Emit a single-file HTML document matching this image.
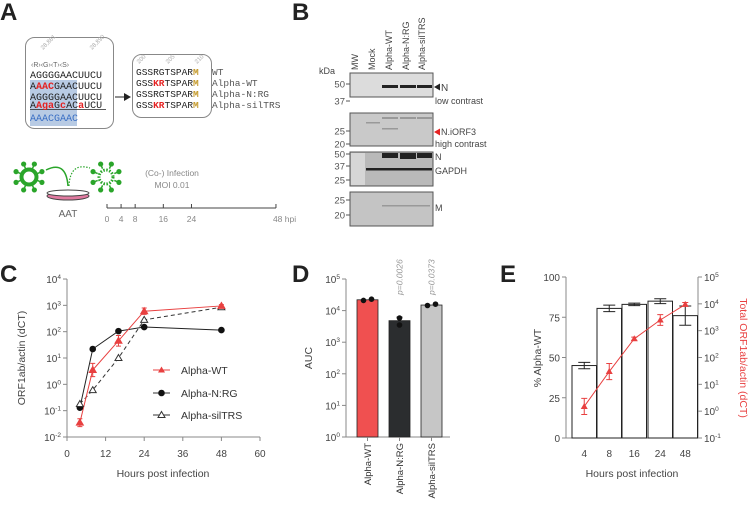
<!DOCTYPE html>
<html><head><meta charset="utf-8"><style>
html,body{margin:0;padding:0;background:#fff;}
svg{display:block;font-family:"Liberation Sans",sans-serif;}
.mono{font-family:"Liberation Mono",monospace;}
</style></head><body>
<svg id="fig" width="750" height="506" viewBox="0 0 750 506">
<!-- Panel letters -->
<g font-weight="bold" font-size="24" fill="#222">
<text x="0" y="20">A</text>
<text x="292" y="20">B</text>
<text x="0" y="282">C</text>
<text x="292" y="282">D</text>
<text x="500" y="282">E</text>
</g>

<!-- Panel A -->
<g>
<rect x="25.5" y="37.5" width="88" height="91" rx="9" fill="#fff" stroke="#888"/>
<rect x="30" y="80" width="47" height="46" fill="#b8cbe4"/>
<line x1="30" y1="109.5" x2="106" y2="109.5" stroke="#222" stroke-width="0.8"/>
<text x="43" y="50" font-size="6" fill="#aaa" transform="rotate(-45 43 50)">28,881</text>
<text x="92" y="50" font-size="6" fill="#aaa" transform="rotate(-45 92 50)">28,890</text>
<text x="31" y="67" font-size="7" fill="#666">‹R›‹G›‹T›‹S›</text>
<g class="mono" font-size="10" fill="#222">
<text x="30" y="78">AGGGGAACUUCU</text>
<text x="30" y="89">A<tspan fill="#e52222" font-weight="bold">AAC</tspan>GAACUUCU</text>
<text x="30" y="100">AGGGGAACUUCU</text>
<text x="30" y="108">A<tspan fill="#e52222" font-weight="bold">Aga</tspan>G<tspan fill="#e52222" font-weight="bold">c</tspan>AC<tspan fill="#e52222" font-weight="bold">a</tspan>UCU</text>
<text x="30" y="121" fill="#3a6fc4">AAACGAAC</text>
</g>
<line x1="115" y1="97" x2="126" y2="97" stroke="#222"/>
<polygon points="124,93 131,97 124,101" fill="#222"/>
<rect x="132.5" y="54.5" width="79" height="63" rx="9" fill="#fff" stroke="#888"/>
<text x="139" y="64" font-size="6" fill="#aaa" transform="rotate(-45 139 64)">200</text>
<text x="168" y="64" font-size="6" fill="#aaa" transform="rotate(-45 168 64)">205</text>
<text x="197" y="64" font-size="6" fill="#aaa" transform="rotate(-45 197 64)">210</text>
<g class="mono" font-size="9.5" fill="#222">
<text x="136" y="75">GSSRGTSPAR<tspan fill="#c49a2c" font-weight="bold">M</tspan></text>
<text x="136" y="86">GSS<tspan fill="#e52222" font-weight="bold">KR</tspan>TSPAR<tspan fill="#c49a2c" font-weight="bold">M</tspan></text>
<text x="136" y="97">GSSRGTSPAR<tspan fill="#c49a2c" font-weight="bold">M</tspan></text>
<text x="136" y="108">GSS<tspan fill="#e52222" font-weight="bold">KR</tspan>TSPAR<tspan fill="#c49a2c" font-weight="bold">M</tspan></text>
</g>
<g class="mono" font-size="9.5" fill="#555">
<text x="212" y="75">WT</text><text x="212" y="86">Alpha-WT</text>
<text x="212" y="97">Alpha-N:RG</text><text x="212" y="108">Alpha-silTRS</text>
</g>
<!-- viruses -->
<g stroke="#2aa52a" fill="#2aa52a">
<circle cx="29" cy="177" r="7.5" fill="none" stroke-width="4"/>
<g id="spikes1"></g>
</g>
<g stroke="#2aa52a" fill="#2aa52a">
<circle cx="106" cy="177" r="7" fill="none" stroke-width="3" stroke-dasharray="1.5 1.5"/>
<g id="spikes2"></g>
</g>
<path d="M46,170 Q66,160 68,186" stroke="#2aa52a" stroke-width="1.5" fill="none"/>
<path d="M69,186 Q70,162 90,168" stroke="#2aa52a" stroke-width="1.2" fill="none" stroke-dasharray="1.5 1.5"/>
<ellipse cx="68" cy="196" rx="21" ry="4" fill="#e07aa0" stroke="#444" stroke-width="1"/>
<ellipse cx="68" cy="193" rx="21" ry="3" fill="#fff" stroke="#444" stroke-width="1"/>
<text x="68" y="217" font-size="10" fill="#666" text-anchor="middle">AAT</text>
<text x="172" y="176" font-size="8.5" fill="#888" text-anchor="middle">(Co-) Infection</text>
<text x="172" y="188" font-size="8.5" fill="#888" text-anchor="middle">MOI 0.01</text>
<g id="timeline"></g>
</g>

<!-- Panel B -->
<g font-size="9" fill="#444">
<text x="319" y="74" font-size="9">kDa</text>
<g id="lanes"></g>
<defs>
<linearGradient id="g1" x1="0" x2="1"><stop offset="0" stop-color="#d4d4d4"/><stop offset="1" stop-color="#c8c8c8"/></linearGradient>
</defs>
<rect x="350" y="73" width="83" height="24" fill="#dcdcdc" stroke="#555"/>
<rect x="350" y="113" width="83" height="33" fill="#c9c9c9" stroke="#555"/>
<rect x="350" y="152" width="83" height="34" fill="#b9b9b9" stroke="#555"/>
<rect x="350" y="192" width="83" height="34" fill="#c4c4c4" stroke="#555"/>
<rect x="351" y="153" width="14" height="32" fill="#d6d6d6"/>
<g fill="#222">
<rect x="382" y="85" width="16" height="3"/><rect x="400" y="85" width="16" height="3"/><rect x="417" y="85" width="15" height="3"/>
<rect x="382" y="153" width="16" height="5"/><rect x="400" y="153" width="16" height="6"/><rect x="417" y="153" width="15" height="5"/>
<rect x="366" y="168" width="66" height="2.5"/>
</g>
<g fill="#999"><rect x="382" y="117" width="16" height="2"/><rect x="400" y="117" width="16" height="2"/><rect x="417" y="117" width="15" height="2"/>
<rect x="382" y="128" width="16" height="1.5"/><rect x="366" y="122" width="14" height="1.5"/><rect x="382" y="205" width="48" height="1.5"/></g>
<g id="kda"></g>
<polygon points="434,87 440,83.5 440,90.5" fill="#222"/>
<text x="441" y="91" font-size="10">N</text>
<text x="435" y="104">low contrast</text>
<polygon points="434,132 440,128.5 440,135.5" fill="#e52222"/>
<text x="441" y="135">N.iORF3</text>
<text x="435" y="147">high contrast</text>
<text x="435" y="160">N</text>
<text x="435" y="174">GAPDH</text>
<text x="435" y="211">M</text>
</g>

<g id="panelC"></g>
<g id="panelD"></g>
<g id="panelE"></g>
</svg>
<script>
const NS="http://www.w3.org/2000/svg";
function mk(p,tag,at,txt){const e=document.createElementNS(NS,tag);for(const k in at)e.setAttribute(k,at[k]);if(txt!==undefined)e.textContent=txt;p.appendChild(e);return e;}

// ---------- Panel C data ----------
const cHours=[4,8,16,24,48];
const cWT=[0.035,3.5,45,600,950];
const cWTerr=[0.15,0.25,0.2,0.12,0.05];
const cNRG=[0.13,22,105,150,115];
const cSil=[0.18,0.6,10,280,850];
const cXTicks=[0,12,24,36,48,60];
const cYExp=[-2,-1,0,1,2,3,4];
const seriesNames=["Alpha-WT","Alpha-N:RG","Alpha-silTRS"];

// ---------- Panel D data ----------
const dCats=["Alpha-WT","Alpha-N:RG","Alpha-silTRS"];
const dVals=[22000,4800,15000];
const dPts=[[21000,23000],[5800,3500],[14500,16000]];
const dP=["","p=0.0026","p=0.0373"];
const dColors=["#f05050","#2b2d2f","#c6c6c6"];
const dYExp=[0,1,2,3,4,5];

// ---------- Panel E data ----------
const eCats=["4","8","16","24","48"];
const ePct=[45,80.5,83,85,76];
const ePctErr=[2,2,0.8,1.5,6];
const eTotal=[1.5,30,500,2500,9500];
const eTotalErr=[0.3,0.3,0.06,0.2,0.07];
const eLeftTicks=[0,25,50,75,100];
const eRightExp=[-1,0,1,2,3,4,5];

const sup=(g,x,y,exp,anchor,fill,fs)=>{const t=mk(g,"text",{x:x,y:y,"font-size":fs||10,fill:fill||"#444","text-anchor":anchor||"end"});t.appendChild(document.createTextNode("10"));const s=document.createElementNS(NS,"tspan");s.setAttribute("dy","-4");s.setAttribute("font-size","6.5");s.textContent=exp;t.appendChild(s);return t;};

// virus spikes
[[29,177,"spikes1",false],[106,177,"spikes2",true]].forEach(([cx,cy,id,d])=>{const g=document.getElementById(id);for(let i=0;i<8;i++){const a=i*Math.PI/4+Math.PI/8;mk(g,"line",{x1:cx+9*Math.cos(a),y1:cy+9*Math.sin(a),x2:cx+13*Math.cos(a),y2:cy+13*Math.sin(a),"stroke-width":1.5});mk(g,"circle",{cx:cx+14*Math.cos(a),cy:cy+14*Math.sin(a),r:2.6,stroke:"none"});}});

// timeline
(function(){const g=document.getElementById("timeline");const tx=h=>107+h*3.52;
mk(g,"line",{x1:tx(0),y1:208,x2:tx(48),y2:208,stroke:"#444"});
[0,4,8,16,24,48].forEach(h=>{mk(g,"line",{x1:tx(h),y1:204,x2:tx(h),y2:208,stroke:"#444"});mk(g,"text",{x:tx(h),y:222,"font-size":8.5,fill:"#888","text-anchor":h===48?"start":"middle",dx:h===48?-3:0},h===48?"48 hpi":h);});})();

// lanes & kDa
(function(){const g=document.getElementById("lanes");const names=["MW","Mock","Alpha-WT","Alpha-N:RG","Alpha-silTRS"];const xs=[358,375,392,409,425];
names.forEach((n,i)=>{const t=mk(g,"text",{x:xs[i],y:70,"font-size":9,fill:"#444",transform:`rotate(-90 ${xs[i]} 70)`},n);});
const k=document.getElementById("kda");const marks=[[50,84],[37,101],[25,131],[20,144],[50,154],[37,166],[25,180],[25,200],[20,215]];
marks.forEach(([v,y])=>{mk(k,"text",{x:345,y:y+3.5,"font-size":9.5,fill:"#555","text-anchor":"end"},v);mk(k,"line",{x1:346,y1:y,x2:350,y2:y,stroke:"#555"});});})();

// ---------- Panel C ----------
(function(){const g=document.getElementById("panelC");
const X=h=>67+h*(193/60), Y=v=>437-(Math.log10(v)+2)*26.33;
mk(g,"line",{x1:67,y1:279,x2:67,y2:437,stroke:"#888"});
mk(g,"line",{x1:67,y1:437,x2:260,y2:437,stroke:"#888"});
cYExp.forEach(e=>{const y=Y(Math.pow(10,e));mk(g,"line",{x1:63,y1:y,x2:67,y2:y,stroke:"#888"});sup(g,61,y+4,e);});
cXTicks.forEach(h=>{mk(g,"line",{x1:X(h),y1:437,x2:X(h),y2:441,stroke:"#888"});mk(g,"text",{x:X(h),y:457,"font-size":10,fill:"#444","text-anchor":"middle"},h);});
mk(g,"text",{x:163,y:477,"font-size":10.5,fill:"#444","text-anchor":"middle"},"Hours post infection");
mk(g,"text",{x:25,y:358,"font-size":10.5,fill:"#444","text-anchor":"middle",transform:"rotate(-90 25 358)"},"ORF1ab/actin (dCT)");
const path=(vals)=>vals.map((v,i)=>(i?"L":"M")+X(cHours[i])+","+Y(v)).join("");
const l1=mk(g,"path",{d:path(cSil),fill:"none",stroke:"#333","stroke-dasharray":"4 3"});
const l2=mk(g,"path",{d:path(cNRG),fill:"none",stroke:"#222"});
const l3=mk(g,"path",{d:path(cWT),fill:"none",stroke:"#e84040"});
const tri=(x,y,fill,stroke)=>mk(g,"polygon",{points:`${x},${y-3.5} ${x+3.5},${y+2.5} ${x-3.5},${y+2.5}`,fill:fill,stroke:stroke});
cWT.forEach((v,i)=>{const x=X(cHours[i]);const e=cWTerr[i];mk(g,"path",{d:`M${x},${Y(v*Math.pow(10,e))}V${Y(v/Math.pow(10,e))}M${x-2.5},${Y(v*Math.pow(10,e))}h5M${x-2.5},${Y(v/Math.pow(10,e))}h5`,stroke:"#e84040"});});
cNRG.forEach((v,i)=>{const c=mk(g,"circle",{cx:X(cHours[i]),cy:Y(v),r:3.3,fill:"#111"});});
cSil.forEach((v,i)=>{const p=tri(X(cHours[i]),Y(v),"#fff","#333");});
cWT.forEach((v,i)=>{const p=tri(X(cHours[i]),Y(v),"#e84040","#e84040");});
// legend
const ly=[370,393,415];
ly.forEach((y,i)=>{const lg=mk(g,"g",{});
mk(lg,"line",{x1:153,y1:y,x2:170,y2:y,stroke:i===0?"#e84040":"#333"});
if(i===0)mk(lg,"polygon",{points:`161.5,${y-3.5} 165,${y+2.5} 158,${y+2.5}`,fill:"#e84040"});
else if(i===1)mk(lg,"circle",{cx:161.5,cy:y,r:3.3,fill:"#111"});
else mk(lg,"polygon",{points:`161.5,${y-3.5} 165,${y+2.5} 158,${y+2.5}`,fill:"#fff",stroke:"#333"});
mk(lg,"text",{x:181,y:y+4,"font-size":10.5,fill:"#333"},seriesNames[i]);});
})();

// ---------- Panel D ----------
(function(){const g=document.getElementById("panelD");
const Y=v=>437-Math.log10(v)*31.6; const bx=[357,389,421], bw=21;
mk(g,"line",{x1:346,y1:279,x2:346,y2:437,stroke:"#888"});
mk(g,"line",{x1:346,y1:437,x2:450,y2:437,stroke:"#888"});
dYExp.forEach(e=>{const y=Y(Math.pow(10,e));mk(g,"line",{x1:342,y1:y,x2:346,y2:y,stroke:"#888"});sup(g,340,y+4,e);});
mk(g,"text",{x:312,y:358,"font-size":10.5,fill:"#444","text-anchor":"middle",transform:"rotate(-90 312 358)"},"AUC");
dVals.forEach((v,i)=>{const b=mk(g,"rect",{x:bx[i],y:Y(v),width:bw,height:437-Y(v),fill:dColors[i],stroke:"#222","stroke-width":0.8});
const cx=bx[i]+bw/2;
dPts[i].forEach((p,j)=>{const dx=(i===1)?0:(j?4:-4);mk(g,"circle",{cx:cx+dx,cy:Y(p),r:2.8,fill:"#111"});});
mk(g,"line",{x1:cx,y1:437,x2:cx,y2:441,stroke:"#888"});
mk(g,"text",{x:cx+3.5,y:443,"font-size":9.5,fill:"#333","text-anchor":"end",transform:`rotate(-90 ${cx+3.5} 443)`},dCats[i]);
if(dP[i])mk(g,"text",{x:cx+3,y:295,"font-size":8.5,fill:"#999","font-style":"italic",transform:`rotate(-90 ${cx+3} 295)`},dP[i]);});
mk(g,"line",{x1:bx[1]+bw/2,y1:Y(6200),x2:bx[1]+bw/2,y2:Y(4800),stroke:"#111"});
mk(g,"line",{x1:bx[1]+bw/2-3,y1:Y(6200),x2:bx[1]+bw/2+3,y2:Y(6200),stroke:"#111"});
})();

// ---------- Panel E ----------
(function(){const g=document.getElementById("panelE");
const L=566,R=698,T=277,B=438;
const YL=p=>B-p*(B-T)/100, YR=v=>B-(Math.log10(v)+1)*(B-T)/6;
const bx=[572,597,622,648,673],bw=24.5;
mk(g,"line",{x1:L,y1:T,x2:L,y2:B,stroke:"#888"});
mk(g,"line",{x1:R,y1:T,x2:R,y2:B,stroke:"#888"});
mk(g,"line",{x1:L,y1:B,x2:R,y2:B,stroke:"#888"});
eLeftTicks.forEach(t=>{mk(g,"line",{x1:L-4,y1:YL(t),x2:L,y2:YL(t),stroke:"#888"});mk(g,"text",{x:L-6,y:YL(t)+4,"font-size":10,fill:"#444","text-anchor":"end"},t);});
eRightExp.forEach(e=>{const y=YR(Math.pow(10,e));mk(g,"line",{x1:R,y1:y,x2:R+4,y2:y,stroke:"#888"});sup(g,R+6,y+4,e,"start");});
mk(g,"text",{x:541,y:358,"font-size":10.5,fill:"#444","text-anchor":"middle",transform:"rotate(-90 541 358)"},"% Alpha-WT");
mk(g,"text",{x:740,y:358,"font-size":10.5,fill:"#e84040","text-anchor":"middle",transform:"rotate(90 740 358)"},"Total ORF1ab/actin (dCT)");
mk(g,"text",{x:632,y:477,"font-size":10.5,fill:"#444","text-anchor":"middle"},"Hours post infection");
ePct.forEach((p,i)=>{const b=mk(g,"rect",{x:bx[i],y:YL(p),width:bw,height:B-YL(p),fill:"#fff",stroke:"#222","stroke-width":1});
const cx=bx[i]+bw/2;const e=ePctErr[i];
mk(g,"path",{d:`M${cx},${YL(p+e)}V${YL(p-e)}M${cx-6},${YL(p+e)}h12M${cx-6},${YL(p-e)}h12`,stroke:"#222",fill:"none"});
mk(g,"text",{x:cx,y:457,"font-size":10,fill:"#444","text-anchor":"middle"},eCats[i]);});
const d=eTotal.map((v,i)=>(i?"L":"M")+(bx[i]+bw/2)+","+YR(v)).join("");
const ln=mk(g,"path",{d:d,fill:"none",stroke:"#e84040"});
eTotal.forEach((v,i)=>{const x=bx[i]+bw/2,y=YR(v),e=eTotalErr[i];
mk(g,"path",{d:`M${x},${YR(v*Math.pow(10,e))}V${YR(v/Math.pow(10,e))}M${x-3},${YR(v*Math.pow(10,e))}h6M${x-3},${YR(v/Math.pow(10,e))}h6`,stroke:"#e84040",fill:"none"});
const p=mk(g,"polygon",{points:`${x},${y-3.5} ${x+3.5},${y+2.5} ${x-3.5},${y+2.5}`,fill:"#e84040"});});
})();
</script>
</body></html>
